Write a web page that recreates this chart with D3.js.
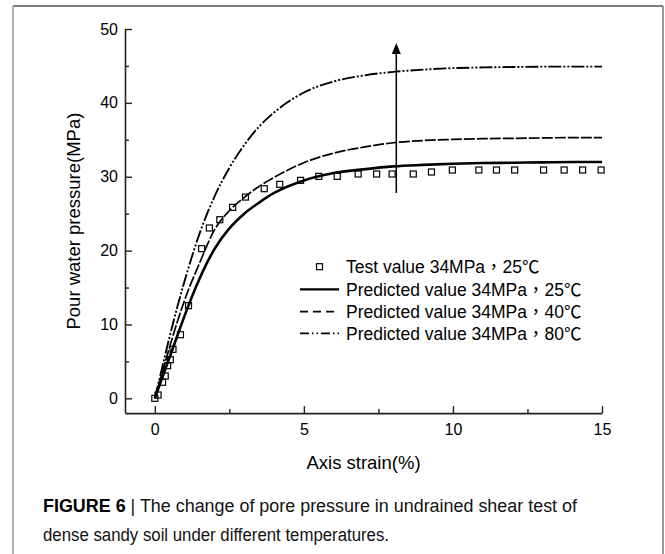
<!DOCTYPE html>
<meta charset="utf-8">
<style>

  body { margin: 0; background: #fff; }

  text {
    font-family: "Liberation Sans", Arial, "Noto Sans CJK TC", sans-serif;
    fill: #000;
  }

  .tick text { font-size: 16px; }

  .legend text { font-size: 17.5px; }

  .title { font-size: 18.5px; }

  .caption {
    font-family: "Liberation Sans Narrow", "Liberation Sans", sans-serif;
    font-size: 18px;
    fill: #111;
  }

</style>
<svg width="665" height="554"></svg>
<script src="https://d3js.org/d3.v7.min.js"></script>
<script>

// strain (%) where the predicted curves were read
var strain = [0, 0.25, 0.5, 0.75, 1, 1.5, 2, 2.5, 3, 3.5, 4, 5, 6, 7, 8, 9, 10, 11, 12, 13, 14, 15];

var pred25 = [0, 2.8, 5.6, 8.4, 11.2, 16.2, 20.2, 23.0, 25.0, 26.5, 27.8, 29.5, 30.5, 31.0, 31.4, 31.6, 31.75, 31.85, 31.9, 31.95, 32.0, 32.0];
var pred40 = [0, 3.5, 7.0, 10.3, 13.3, 18.3, 22.8, 25.4, 27.2, 28.7, 29.9, 31.9, 33.2, 34.0, 34.6, 34.9, 35.05, 35.15, 35.2, 35.25, 35.3, 35.3];
var pred80 = [0, 4.2, 8.4, 12.3, 15.9, 22.3, 27.3, 31.2, 34.3, 36.8, 38.7, 41.4, 42.9, 43.7, 44.2, 44.5, 44.7, 44.8, 44.85, 44.9, 44.9, 44.9];

// test values, 34MPa 25°C
var testStrain   = [0, 0.11, 0.26, 0.35, 0.43, 0.52, 0.61, 0.86, 1.13, 1.57, 1.83, 2.18, 2.61, 3.04, 3.67, 4.19, 4.89, 5.50, 6.12, 6.82, 7.44, 7.96, 8.67, 9.28, 9.98, 10.87, 11.46, 12.07, 13.04, 13.73, 14.35, 14.97];
var testPressure = [0, 0.45, 2.17, 3.02, 4.42, 5.23, 6.63, 8.61, 12.54, 20.26, 23.06, 24.18, 25.86, 27.25, 28.38, 28.97, 29.51, 30.05, 30.05, 30.37, 30.37, 30.37, 30.37, 30.64, 30.91, 30.91, 30.91, 30.91, 30.91, 30.91, 30.91, 30.91];

var xTicks = [0, 5, 10, 15];
var xMinor = [2.5, 7.5, 12.5];
var yTicks = [0, 10, 20, 30, 40, 50];
var yMinor = [5, 15, 25, 35, 45];

var legendLabels = [
  "Test value 34MPa，25℃",
  "Predicted value 34MPa，25℃",
  "Predicted value 34MPa，40℃",
  "Predicted value 34MPa，80℃"
];

var svg = d3.select("svg");

// figure frame
svg.append("line").attr("x1", 13).attr("y1", 6).attr("x2", 663).attr("y2", 6)
    .attr("stroke", "#555").attr("stroke-width", 1.5);
svg.append("line").attr("x1", 13).attr("y1", 6).attr("x2", 13).attr("y2", 554)
    .attr("stroke", "#b0b0b0").attr("stroke-width", 2);
svg.append("line").attr("x1", 663).attr("y1", 6).attr("x2", 663).attr("y2", 554)
    .attr("stroke", "#777").attr("stroke-width", 1.5);

var x = d3.scaleLinear().domain([-1, 15]).range([125, 602]);
var y = d3.scaleLinear().domain([-2, 50]).range([413.1, 29]);

var gx = svg.append("g")
    .attr("transform", "translate(0," + y(-2) + ")")
    .call(d3.axisBottom(x).tickValues(xTicks).tickSizeInner(-7).tickSizeOuter(0).tickPadding(10.5));
gx.append("g")
    .call(d3.axisBottom(x).tickValues(xMinor).tickSize(-4).tickFormat(""))
    .select(".domain").remove();

var gy = svg.append("g")
    .attr("transform", "translate(" + x(-1) + ",0)")
    .call(d3.axisLeft(y).tickValues(yTicks).tickSizeInner(-7).tickSizeOuter(0).tickPadding(7));
gy.append("g")
    .call(d3.axisLeft(y).tickValues(yMinor).tickSize(-4).tickFormat(""))
    .select(".domain").remove();

svg.selectAll(".domain").attr("stroke", "#222").attr("stroke-width", 1.6);
svg.selectAll(".tick line").attr("stroke", "#222").attr("stroke-width", 1.4);
svg.selectAll(".tick text").attr("font-family", null).attr("font-size", null);

// axis titles
svg.append("text")
    .attr("class", "title")
    .attr("x", (x(-1) + x(15)) / 2)
    .attr("y", 469)
    .attr("text-anchor", "middle")
    .text("Axis strain(%)");

svg.append("text")
    .attr("class", "title")
    .attr("transform", "translate(80," + (y(-2) + y(50)) / 2 + ") rotate(-90)")
    .attr("text-anchor", "middle")
    .text("Pour water pressure(MPa)");

// curves
var line = d3.line()
    .x(function(d) { return x(d[0]); })
    .y(function(d) { return y(d[1]); })
    .curve(d3.curveMonotoneX);

var curves = [
  {vals: pred25, width: 2.6, dash: null},
  {vals: pred40, width: 1.7, dash: "11,2"},
  {vals: pred80, width: 1.9, dash: "13,2,2,2,2,2"}
];

svg.append("g")
  .selectAll("path")
  .data(curves)
  .enter().append("path")
    .attr("fill", "none")
    .attr("stroke", "#000")
    .attr("stroke-width", function(d) { return d.width; })
    .attr("stroke-dasharray", function(d) { return d.dash; })
    .attr("d", function(d) { return line(strain.map(function(s, i) { return [s, d.vals[i]]; })); });

// test points
svg.append("g")
  .selectAll("rect")
  .data(testStrain.map(function(s, i) { return [s, testPressure[i]]; }))
  .enter().append("rect")
    .attr("x", function(d) { return x(d[0]) - 3; })
    .attr("y", function(d) { return y(d[1]) - 3; })
    .attr("width", 6)
    .attr("height", 6)
    .attr("fill", "none")
    .attr("stroke", "#000")
    .attr("stroke-width", 1.2);

// arrow showing increasing temperature
svg.append("line")
    .attr("x1", x(8.1)).attr("y1", y(27.8))
    .attr("x2", x(8.1)).attr("y2", y(48.1) + 11)
    .attr("stroke", "#000")
    .attr("stroke-width", 1.5);
svg.append("path")
    .attr("d", "M" + (x(8.1) - 4.5) + "," + (y(48.1) + 11) + " L" + x(8.1) + "," + y(48.1) + " L" + (x(8.1) + 4.5) + "," + (y(48.1) + 11) + " Z")
    .attr("fill", "#000");

// legend
var legend = svg.append("g").attr("class", "legend");
var rowY = [266.7, 289.3, 311.7, 333.3];
var keyDash = [null, null, "8,5", "9,3,1.5,3,1.5,3"];

legend.selectAll("text")
  .data(legendLabels)
  .enter().append("text")
    .attr("x", 346)
    .attr("y", function(d, i) { return rowY[i] + 6.2; })
    .text(function(d) { return d; });

legend.append("rect")
    .attr("x", 316.5).attr("y", rowY[0] - 3)
    .attr("width", 6).attr("height", 6)
    .attr("fill", "none").attr("stroke", "#000").attr("stroke-width", 1.2);

[1, 2, 3].forEach(function(i) {
  legend.append("line")
      .attr("x1", 300).attr("x2", 339)
      .attr("y1", rowY[i]).attr("y2", rowY[i])
      .attr("stroke", "#000")
      .attr("stroke-width", i === 1 ? 2.2 : 1.8)
      .attr("stroke-dasharray", keyDash[i]);
});

// caption
var cap1 = svg.append("text")
    .attr("class", "caption")
    .attr("x", 43)
    .attr("y", 512)
    .attr("textLength", 534)
    .attr("lengthAdjust", "spacingAndGlyphs");
cap1.append("tspan").attr("font-weight", "bold").attr("fill", "#000").text("FIGURE 6");
cap1.append("tspan").text(" | The change of pore pressure in undrained shear test of");

svg.append("text")
    .attr("class", "caption")
    .attr("x", 43)
    .attr("y", 541)
    .attr("textLength", 346)
    .attr("lengthAdjust", "spacingAndGlyphs")
    .text("dense sandy soil under different temperatures.");

</script>
